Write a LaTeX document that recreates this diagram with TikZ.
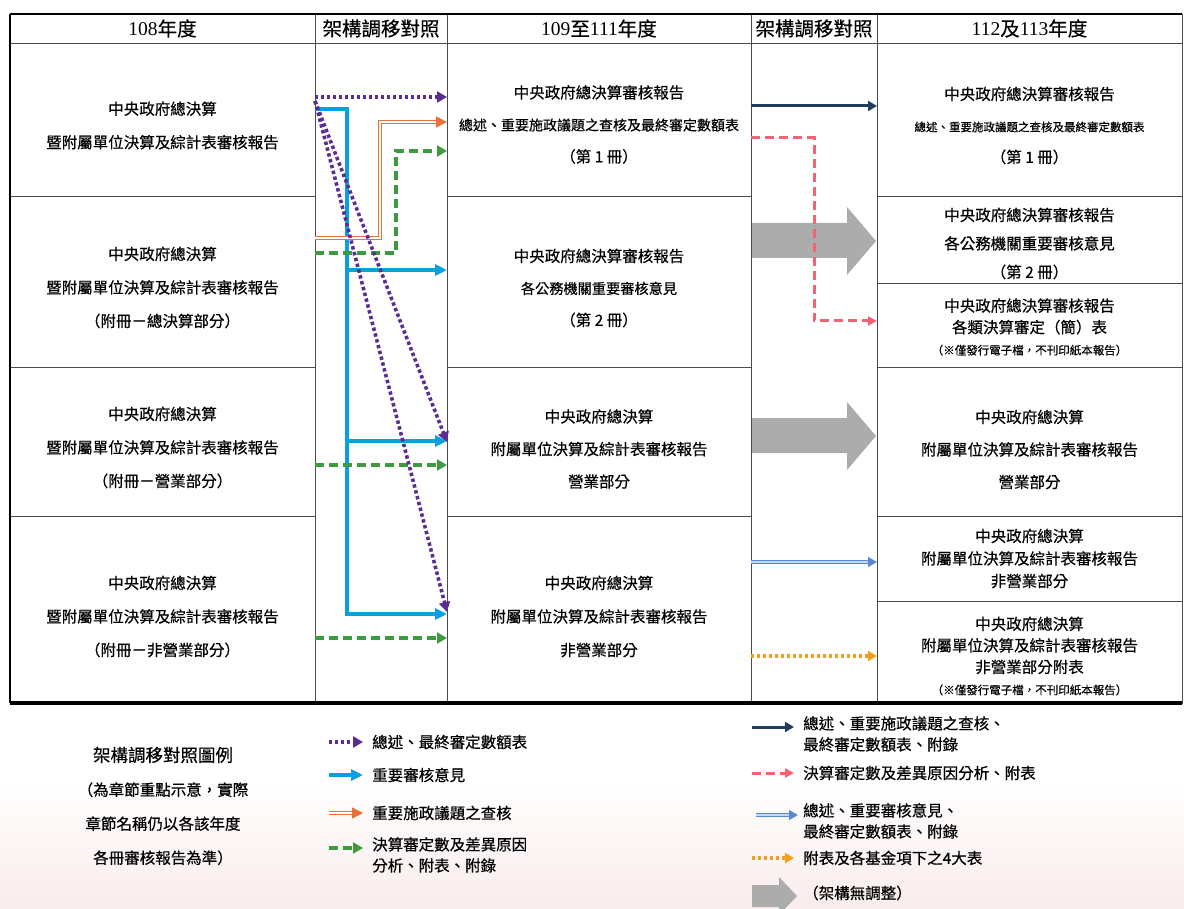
\documentclass[tikz,border=0pt]{standalone}
\usepackage{fontspec}
\setmainfont{Liberation Serif}
\newfontfamily\cjk[FakeBold=0.5]{Noto Sans CJK TC}
\usetikzlibrary{arrows.meta,positioning}

\definecolor{cpurple}{RGB}{92,45,145}
\definecolor{cblue}{RGB}{10,160,222}
\definecolor{corange}{RGB}{232,112,58}
\definecolor{cgreen}{RGB}{60,155,62}
\definecolor{cnavy}{RGB}{31,61,95}
\definecolor{cpink}{RGB}{240,100,115}
\definecolor{clblue}{RGB}{88,138,205}
\definecolor{cyellow}{RGB}{240,160,32}
\definecolor{cgray}{RGB}{172,172,172}
\definecolor{cbgpink}{RGB}{250,236,236}

\begin{document}
\begin{tikzpicture}[x=1pt,y=-1pt,
    cell/.style={draw=black!70,line width=0.8pt,outer sep=0pt,inner sep=0pt,align=center},
    celltext/.style={align=center,inner sep=0pt,font=\cjk\fontsize{15.5}{#1}\selectfont},
    celltext/.default=33.5pt,
    head/.style={cell,minimum height=29pt,font=\fontsize{19.5}{22}\selectfont},
    legtext/.style={anchor=west,align=left,inner sep=0pt,font=\cjk\fontsize{15.5}{21}\selectfont},
    purpleline/.style={draw=cpurple,line width=3.6pt,dash pattern=on 3.4pt off 2.6pt,-{Triangle[length=10pt,width=11pt]}},
    blueline/.style={draw=cblue,line width=3.4pt,-{Triangle[length=12pt,width=11pt]}},
    orangeline/.style={draw=corange,double=white,double distance=1.2pt,line width=1.5pt,-{Triangle[length=11pt,width=11pt]}},
    greenline/.style={draw=cgreen,line width=3.4pt,dash pattern=on 9pt off 5pt,-{Triangle[length=10pt,width=11pt]}},
    navyline/.style={draw=cnavy,line width=3pt,-{Triangle[length=9pt,width=10pt]}},
    pinkline/.style={draw=cpink,line width=3pt,dash pattern=on 9pt off 5pt,-{Triangle[length=9pt,width=9pt]}},
    lblueline/.style={draw=clblue,double=clblue!35,double distance=1.2pt,line width=1.3pt,-{Triangle[length=9pt,width=10pt]}},
    yellowline/.style={draw=cyellow,line width=3.4pt,dash pattern=on 3.4pt off 2.6pt,-{Triangle[length=9pt,width=10pt]}},
    nochange/.style={fill=cgray}]

  \useasboundingbox (0,0) rectangle (1184,909);
  \shade[top color=white,bottom color=cbgpink] (0,780) rectangle (1184,909);

  % header row
  \node[head,minimum width=305pt,anchor=north west] (ha) at (10,14) {108{\cjk 年度}};
  \node[head,minimum width=132pt,right=0pt of ha] (hm1) {\cjk 架構調移對照};
  \node[head,minimum width=304pt,right=0pt of hm1] (hb) {109{\cjk 至}111{\cjk 年度}};
  \node[head,minimum width=126pt,right=0pt of hb] (hm2) {\cjk 架構調移對照};
  \node[head,minimum width=305pt,right=0pt of hm2] (hc) {112{\cjk 及}113{\cjk 年度}};

  % 108
  \node[cell,minimum width=305pt,minimum height=153pt,below=0pt of ha] (a1) {};
  \node[cell,minimum width=305pt,minimum height=171pt,below=0pt of a1] (a2) {};
  \node[cell,minimum width=305pt,minimum height=149pt,below=0pt of a2] (a3) {};
  \node[cell,minimum width=305pt,minimum height=187pt,below=0pt of a3] (a4) {};
  \node[celltext] (a1t) at ([yshift=-6pt]a1.center) {中央政府總決算\\暨附屬單位決算及綜計表審核報告};
  \node[celltext] (a2t) at ([yshift=-6pt]a2.center) {中央政府總決算\\暨附屬單位決算及綜計表審核報告\\（附冊－總決算部分）};
  \node[celltext] (a3t) at ([yshift=-6pt]a3.center) {中央政府總決算\\暨附屬單位決算及綜計表審核報告\\（附冊－營業部分）};
  \node[celltext] (a4t) at ([yshift=-7pt]a4.center) {中央政府總決算\\暨附屬單位決算及綜計表審核報告\\（附冊－非營業部分）};

  \node[cell,minimum width=132pt,minimum height=660pt,below=0pt of hm1] (m1) {};

  % 109-111
  \node[cell,minimum width=304pt,minimum height=153pt,below=0pt of hb] (b1) {};
  \node[cell,minimum width=304pt,minimum height=171pt,below=0pt of b1] (b2) {};
  \node[cell,minimum width=304pt,minimum height=149pt,below=0pt of b2] (b3) {};
  \node[cell,minimum width=304pt,minimum height=187pt,below=0pt of b3] (b4) {};
  \node[celltext=32pt] (b1t) at ([yshift=-5pt]b1.center) {中央政府總決算審核報告\\{\fontsize{14}{32}\selectfont 總述、重要施政議題之查核及最終審定數額表}\\（第 1 冊）};
  \node[celltext=32pt] (b2t) at ([yshift=-6.5pt]b2.center) {中央政府總決算審核報告\\{\fontsize{14.2}{32}\selectfont 各公務機關重要審核意見}\\（第 2 冊）};
  \node[celltext=32.5pt] (b3t) at ([yshift=-7.5pt]b3.center) {中央政府總決算\\附屬單位決算及綜計表審核報告\\營業部分};
  \node[celltext=33.5pt] (b4t) at ([yshift=-7pt]b4.center) {中央政府總決算\\附屬單位決算及綜計表審核報告\\非營業部分};

  \node[cell,minimum width=126pt,minimum height=660pt,below=0pt of hm2] (m2) {};

  % 112-113
  \node[cell,minimum width=305pt,minimum height=153pt,below=0pt of hc] (c1) {};
  \node[cell,minimum width=305pt,minimum height=87pt,below=0pt of c1] (c2) {};
  \node[cell,minimum width=305pt,minimum height=84pt,below=0pt of c2] (c3) {};
  \node[cell,minimum width=305pt,minimum height=149pt,below=0pt of c3] (c4) {};
  \node[cell,minimum width=305pt,minimum height=85pt,below=0pt of c4] (c5) {};
  \node[cell,minimum width=305pt,minimum height=102pt,below=0pt of c5] (c6) {};
  \node[celltext=31.5pt] (c1t) at ([yshift=-6pt]c1.center) {中央政府總決算審核報告\\{\fontsize{11.5}{31.5}\selectfont 總述、重要施政議題之查核及最終審定數額表}\\（第 1 冊）};
  \node[celltext=28.5pt] (c2t) at ([yshift=-4pt]c2.center) {中央政府總決算審核報告\\各公務機關重要審核意見\\（第 2 冊）};
  \node[celltext=21.5pt] (c3t) at ([yshift=-2pt]c3.center) {中央政府總決算審核報告\\各類決算審定（簡）表\\{\fontsize{11.5}{21.5}\selectfont （※僅發行電子檔，不刊印紙本報告）}};
  \node[celltext=32.5pt] (c4t) at ([yshift=-8pt]c4.center) {中央政府總決算\\附屬單位決算及綜計表審核報告\\營業部分};
  \node[celltext=22.5pt] (c5t) at (c5.center) {中央政府總決算\\附屬單位決算及綜計表審核報告\\非營業部分};
  \node[celltext=21.5pt] (c6t) at ([yshift=-4pt]c6.center) {中央政府總決算\\附屬單位決算及綜計表審核報告\\非營業部分附表\\{\fontsize{11.5}{21.5}\selectfont （※僅發行電子檔，不刊印紙本報告）}};

  % outer frame
  \draw[line width=2.4pt] (ha.north west) -- (hc.north east);
  \draw[line width=2.4pt] (ha.north west) -- (a4.south west);
  \draw[line width=3.5pt] (a4.south west) -- (c6.south east);

  % 108 -> 109-111
  \draw[blueline] (m1.west |- 0,109) -| (347,614) -- (b4.west |- 0,614);
  \draw[blueline] (347,270) -- (b2.west |- 0,270);
  \draw[blueline] (347,441) -- (b3.west |- 0,441);
  \draw[orangeline] (a2.east |- 0,238) -| (380,122) -- (b1.west |- 0,122);
  \draw[greenline] (a2.east |- 0,253) -| (396,151) -- (b1.west |- 0,151);
  \draw[greenline] (a3.east |- 0,465) -- (b3.west |- 0,465);
  \draw[greenline] (a4.east |- 0,638) -- (b4.west |- 0,638);
  \draw[purpleline] (m1.west |- 0,97) -- (b1.west |- 0,97);
  \draw[purpleline] (m1.west |- 0,101) -- (b3.west |- 0,442);
  \draw[purpleline] (m1.west |- 0,101) -- (b4.west |- 0,612);

  % 109-111 -> 112-113
  \fill[nochange] (752,223) -- (847,223) -- (847,207) -- (876,241) -- (847,275) -- (847,258) -- (752,258) -- cycle;
  \fill[nochange] (752,418) -- (847,418) -- (847,402) -- (876,436) -- (847,470) -- (847,453) -- (752,453) -- cycle;
  \draw[navyline] (b1.east |- 0,106) -- (c1.west |- 0,106);
  \draw[pinkline] (b1.east |- 0,138) -| (814,321) -- (c3.west |- 0,321);
  \draw[lblueline] (b4.east |- 0,562) -- (c5.west |- 0,562);
  \draw[yellowline] (b4.east |- 0,656) -- (c6.west |- 0,656);

  % legend
  \node[align=center,inner sep=0pt,font=\cjk\fontsize{15.5}{34}\selectfont] (legtitle) at (163,806) {{\fontsize{17.5}{34}\selectfont 架構調移對照圖例}\\（為章節重點示意，實際\\章節名稱仍以各該年度\\各冊審核報告為準）};

  \node[legtext] (lg1) at (372,742) {總述、最終審定數額表};
  \node[legtext] (lg2) at (372,775) {重要審核意見};
  \node[legtext] (lg3) at (372,813) {重要施政議題之查核};
  \node[legtext,anchor=north west] (lg4) at (372,837) {決算審定數及差異原因\\分析、附表、附錄};
  \draw[purpleline] ([xshift=-43pt]lg1.west) -- ([xshift=-9pt]lg1.west);
  \draw[blueline] ([xshift=-43pt]lg2.west) -- ([xshift=-9pt]lg2.west);
  \draw[orangeline] ([xshift=-43pt]lg3.west) -- ([xshift=-9pt]lg3.west);
  \draw[greenline] ([xshift=-43pt,yshift=-11pt]lg4.north west) -- ([xshift=-9pt,yshift=-11pt]lg4.north west);

  \node[legtext,anchor=north west] (lr1) at (803,716) {總述、重要施政議題之查核、\\最終審定數額表、附錄};
  \node[legtext] (lr2) at (803,773) {決算審定數及差異原因分析、附表};
  \node[legtext,anchor=north west] (lr3) at (803,803) {總述、重要審核意見、\\最終審定數額表、附錄};
  \node[legtext] (lr4) at (803,858) {附表及各基金項下之4大表};
  \node[legtext] (lr5) at (803,893) {（架構無調整）};
  \draw[navyline] ([xshift=-51pt,yshift=-11pt]lr1.north west) -- ([xshift=-9pt,yshift=-11pt]lr1.north west);
  \draw[pinkline] ([xshift=-51pt]lr2.west) -- ([xshift=-9pt]lr2.west);
  \draw[lblueline] ([xshift=-47pt,yshift=-12pt]lr3.north west) -- ([xshift=-5pt,yshift=-12pt]lr3.north west);
  \draw[yellowline] ([xshift=-51pt]lr4.west) -- ([xshift=-9pt]lr4.west);
  \fill[nochange] (752,885) -- (779,885) -- (779,877) -- (797,896) -- (779,915) -- (779,907) -- (752,907) -- cycle;
\end{tikzpicture}
\end{document}
